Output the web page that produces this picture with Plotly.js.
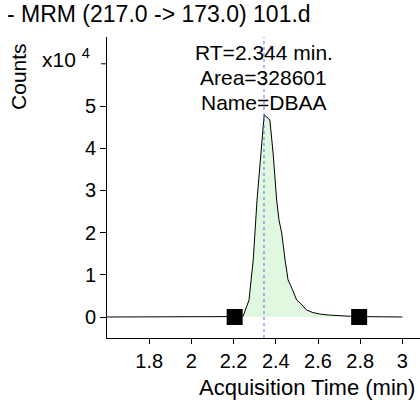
<!DOCTYPE html>
<html>
<head>
<meta charset="utf-8">
<script src="https://cdn.plot.ly/plotly-3.0.1.min.js"></script>
<style>html,body{margin:0;padding:0;background:#fff;}#chart{width:420px;height:403px;}</style>
</head>
<body>
<div id="chart"></div>
<script>
// Chromatogram data (acquisition time in min, counts)
const time = [1.60, 1.70, 1.80, 1.90, 2.00, 2.05, 2.10, 2.15, 2.20, 2.245, 2.273, 2.293, 2.311, 2.328, 2.345, 2.356, 2.372, 2.388, 2.404, 2.415, 2.428, 2.444, 2.458, 2.478, 2.499, 2.520, 2.546, 2.575, 2.609, 2.65, 2.704, 2.75, 2.80, 2.85, 2.90, 2.95, 3.00];
const counts = [0, 0, 0, 0, 0, 100, 150, 150, 100, 200, 4000, 13500, 27700, 37900, 47900, 47400, 46700, 38400, 27700, 23000, 19900, 13500, 8800, 6600, 4000, 3100, 1660, 1070, 700, 470, 240, 170, 100, 60, 40, 20, 0];
// Integration start / end markers
const markerTime = [2.205, 2.795];
const markerCounts = [0, 0];
// Peak info
const retentionTime = 2.344;
const peakLabels = ["RT=2.344 min.", "Area=328601", "Name=DBAA"];
const yTickVals = [0, 10000, 20000, 30000, 40000, 50000];
const yTickText = ["0", "1", "2", "3", "4", "5"];
const xTickVals = [1.8, 2.0, 2.2, 2.4, 2.6, 2.8, 3.0];
const xTickText = ["1.8", "2", "2.2", "2.4", "2.6", "2.8", "3"];

const fillT = [], fillC = [];
for (let i = 0; i < time.length; i++) {
  if (time[i] >= markerTime[0] && time[i] <= markerTime[1]) { fillT.push(time[i]); fillC.push(counts[i]); }
}

const font = "Liberation Sans, Arial, sans-serif";
const fs = 21;
const traces = [
  {x: fillT, y: fillC, type: 'scatter', mode: 'lines', fill: 'tozeroy', fillcolor: '#e0f8e0', line: {width: 0}, hoverinfo: 'skip'},
  {x: time, y: counts, type: 'scatter', mode: 'lines', line: {color: '#000', width: 1}},
  {x: markerTime, y: markerCounts, type: 'scatter', mode: 'markers', marker: {symbol: 'square', size: 16, color: '#000'}}
];

const annotations = [
  {text: "- MRM (217.0 -> 173.0) 101.d", xref: 'paper', yref: 'paper', x: -0.326, y: 1.077, xanchor: 'left', yanchor: 'middle', showarrow: false, font: {size: 23, color: '#000', family: font}},
  {text: "Counts", xref: 'paper', yref: 'paper', x: -0.285, y: 0.87, textangle: -90, xanchor: 'center', yanchor: 'middle', showarrow: false, font: {size: fs, color: '#000', family: font}},
  {text: "x10 <sup>4</sup>", xref: 'paper', yref: 'paper', x: -0.047, y: 0.93, xanchor: 'right', yanchor: 'middle', showarrow: false, font: {size: fs, color: '#000', family: font}},
  {text: "Acquisition Time (min)", xref: 'paper', yref: 'paper', x: 0.99, y: -0.165, xanchor: 'right', yanchor: 'middle', showarrow: false, font: {size: 22, color: '#000', family: font}}
];
const labelY = [0.95, 0.867, 0.784];
peakLabels.forEach((t, i) => annotations.push({text: t, xref: 'x', yref: 'paper', x: retentionTime, y: labelY[i], xanchor: 'center', yanchor: 'middle', showarrow: false, font: {size: 21, color: '#000', family: font}}));

const layout = {
  width: 420, height: 403,
  margin: {l: 107, r: 0, t: 37, b: 65, pad: 0},
  paper_bgcolor: '#fff', plot_bgcolor: '#fff',
  showlegend: false,
  font: {family: font, size: fs, color: '#000'},
  xaxis: {range: [1.6, 3.0834], tickvals: xTickVals, ticktext: xTickText, ticks: 'outside', ticklen: 5, tickcolor: '#000', showline: true, linecolor: '#000', linewidth: 1, showgrid: false, zeroline: false, tickfont: {size: 20, family: font}},
  yaxis: {range: [-4976, 66350], tickvals: yTickVals, ticktext: yTickText, ticks: 'outside', ticklen: 6, tickcolor: '#000', showline: true, linecolor: '#000', linewidth: 1, showgrid: false, zeroline: false, tickfont: {size: 20, family: font}},
  shapes: [
    {type: 'line', xref: 'x', yref: 'paper', x0: retentionTime, x1: retentionTime, y0: 0, y1: 1, line: {color: 'rgba(80,80,230,0.85)', width: 1, dash: 'dot'}},
    {type: 'line', xref: 'paper', yref: 'y', x0: -6/313, x1: 0, y0: 60000, y1: 60000, line: {color: '#000', width: 1}}
  ],
  annotations: annotations
};
Plotly.newPlot('chart', traces, layout, {staticPlot: true, displayModeBar: false});
</script>
</body>
</html>
